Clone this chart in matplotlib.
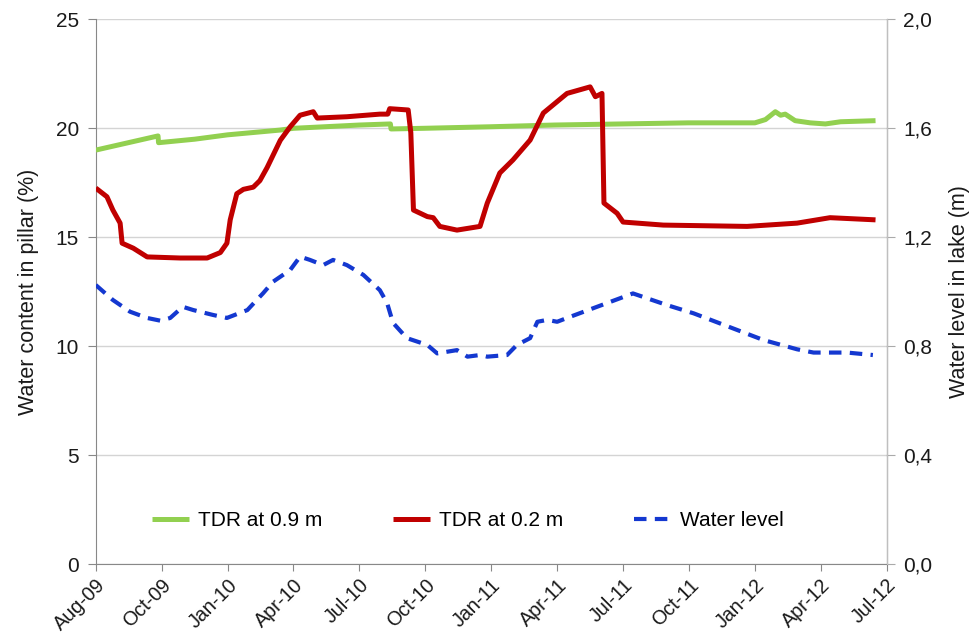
import matplotlib
matplotlib.use("Agg")
import matplotlib.pyplot as plt

plt.rcParams['font.family'] = ['Liberation Sans', 'DejaVu Sans']

# x positions in tick intervals (each tick = one labelled period)
tick_labels = ["Aug-09", "Oct-09", "Jan-10", "Apr-10", "Jul-10", "Oct-10", "Jan-11",
               "Apr-11", "Jul-11", "Oct-11", "Jan-12", "Apr-12", "Jul-12"]

tdr09_t = [0, 0.945, 0.953, 1.5, 2.0, 2.8, 3.0, 4.0, 4.47, 4.48, 4.98, 5.98, 6.96,
           7.98, 8.99, 10.0, 10.16, 10.31, 10.39, 10.46, 10.61, 10.84, 11.07, 11.3, 11.83]
tdr09_v = [19.0, 19.65, 19.34, 19.5, 19.7, 19.92, 20.0, 20.15, 20.2, 19.97, 20.0, 20.07, 20.15,
           20.2, 20.25, 20.25, 20.4, 20.76, 20.6, 20.65, 20.35, 20.25, 20.2, 20.3, 20.35]

tdr02_t = [0, 0.17, 0.26, 0.37, 0.40, 0.57, 0.78, 1.28, 1.69, 1.89, 1.99, 2.04, 2.14, 2.24,
           2.39, 2.49, 2.60, 2.80, 2.95, 3.10, 3.30, 3.36, 3.81, 4.31, 4.43, 4.46, 4.74, 4.78,
           4.82, 5.03, 5.12, 5.22, 5.48, 5.83, 5.94, 6.13, 6.33, 6.59, 6.79, 7.15, 7.50, 7.58,
           7.68, 7.71, 7.91, 8.00, 8.61, 9.88, 10.64, 11.14, 11.83]
tdr02_v = [17.26, 16.86, 16.25, 15.65, 14.73, 14.5, 14.1, 14.05, 14.05, 14.3, 14.73, 15.8, 17.0, 17.2,
           17.3, 17.6, 18.2, 19.45, 20.07, 20.6, 20.76, 20.47, 20.53, 20.65, 20.65, 20.9, 20.84, 19.8,
           16.25, 15.95, 15.9, 15.5, 15.33, 15.5, 16.57, 17.95, 18.55, 19.46, 20.7, 21.6, 21.9, 21.45,
           21.6, 16.57, 16.1, 15.7, 15.56, 15.5, 15.65, 15.9, 15.8]

level_t = [0, 0.26, 0.52, 0.78, 0.98, 1.13, 1.32, 1.48, 1.78, 1.99, 2.30, 2.54, 2.69, 2.95,
           3.10, 3.25, 3.45, 3.60, 3.81, 4.06, 4.31, 4.42, 4.51, 4.72, 5.03, 5.18, 5.48, 5.64,
           5.83, 5.94, 6.24, 6.39, 6.59, 6.70, 6.85, 7.00, 7.15, 8.15, 8.67, 9.07, 10.13, 10.64,
           10.89, 11.40, 11.79]
level_v = [1.025, 0.97, 0.927, 0.904, 0.894, 0.904, 0.945, 0.933, 0.915, 0.904, 0.933, 0.995, 1.037, 1.08,
           1.129, 1.117, 1.098, 1.117, 1.098, 1.062, 1.006, 0.959, 0.886, 0.83, 0.805, 0.774, 0.786, 0.762,
           0.768, 0.762, 0.768, 0.805, 0.83, 0.89, 0.897, 0.89, 0.904, 0.994, 0.951, 0.921, 0.823, 0.789,
           0.777, 0.777, 0.768]

left_ticks = [0, 5, 10, 15, 20, 25]
right_ticks = [0.0, 0.4, 0.8, 1.2, 1.6, 2.0]

fig = plt.figure(figsize=(9.69, 6.39), dpi=100)
ax = fig.add_axes([0.0988, 0.1169, 0.9151 - 0.0988, 0.9698 - 0.1169])
ax2 = ax.twinx()

FS = 15
FX = 14.2
FL = 15.5
txt = '#1a1a1a'

ax.set_xlim(0, 12)
ax.set_ylim(0, 25)
ax2.set_ylim(0, 2.0)

for y in left_ticks:
    ax.axhline(y, color='#d4d4d4', lw=1.0, zorder=0)

l1, = ax.plot(tdr09_t, tdr09_v, color='#92D050', lw=3.6, solid_capstyle='butt', label='TDR at 0.9 m', zorder=3)
l2, = ax.plot(tdr02_t, tdr02_v, color='#C00000', lw=3.6, solid_capstyle='butt', label='TDR at 0.2 m', zorder=3)
l3, = ax2.plot(level_t, level_v, color='#1438D0', lw=3.0, dashes=(3, 2), label='Water level', zorder=3)

ax.set_yticks(left_ticks)
ax.set_yticklabels([str(v) for v in left_ticks], fontsize=FS, color=txt)
ax2.set_yticks(right_ticks)
ax2.set_yticklabels([f"{v:.1f}".replace('.', ',') for v in right_ticks], fontsize=FS, color=txt)
ax.set_xticks(range(len(tick_labels)))
ax.set_xticklabels(tick_labels, rotation=45, ha='right', va='top', rotation_mode='anchor',
                   fontsize=FX, color=txt)

ax.tick_params(axis='y', direction='out', length=6, color='#888888', pad=6)
ax2.tick_params(axis='y', direction='out', length=6, color='#aaaaaa', pad=6)
ax.tick_params(axis='x', direction='out', length=5, color='#888888', pad=3)

for a in (ax, ax2):
    a.spines['top'].set_visible(False)
ax.spines['left'].set_color('#888888')
ax.spines['bottom'].set_color('#888888')
ax2.spines['left'].set_visible(False)
ax2.spines['bottom'].set_visible(False)
ax2.spines['right'].set_color('#bfbfbf')

ax.set_ylabel('Water content in pillar (%)', fontsize=FL, color=txt, labelpad=12)
ax2.set_ylabel('Water level in lake (m)', fontsize=FL, color=txt, rotation=90, labelpad=12)

ax2.legend(handles=[l1, l2, l3], loc='center', bbox_to_anchor=(0.47, 0.08), ncol=3,
           frameon=False, fontsize=FS, handlelength=1.8, handletextpad=0.4, columnspacing=3.4)

fig.savefig('out.png', dpi=100)
